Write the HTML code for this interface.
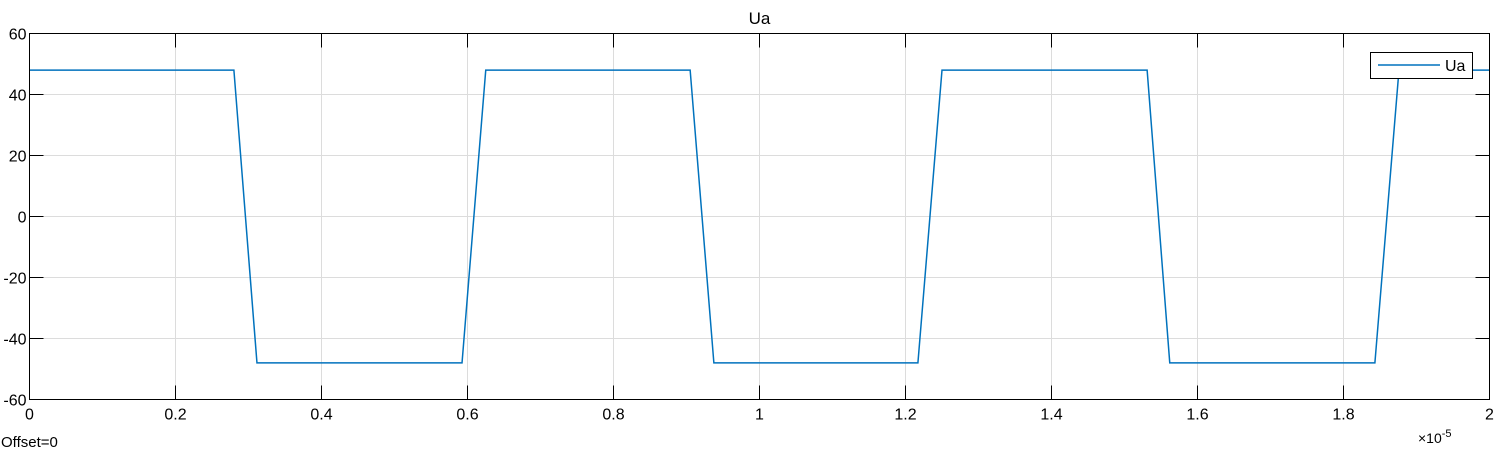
<!DOCTYPE html>
<html><head><meta charset="utf-8"><style>
body{margin:0;background:#fff;}
svg text{font-family:"Liberation Sans",Arial,sans-serif;}
</style></head><body>
<svg id="chart" width="1510" height="456" xmlns="http://www.w3.org/2000/svg">
<rect width="1510" height="456" fill="#fff"/>
<text x="759.5" y="24" style="font-size:17px" text-anchor="middle" fill="#000">Ua</text>
<g id="grid"></g><g id="ticks"></g>
<polyline id="series" fill="none" stroke="#0072bd" stroke-width="1.5"/>
<rect x="29.5" y="33.5" width="1460" height="366" fill="none" stroke="#000" stroke-width="1"/>
<g>
<rect x="1370.5" y="52.5" width="102" height="26" fill="#fff" stroke="#000"/>
<line x1="1378" y1="65" x2="1440" y2="65" stroke="#0072bd" stroke-width="1.5"/>
<text x="1445" y="71" style="font-size:16px" fill="#000">Ua</text>
</g>
<text x="1" y="447" style="font-size:15px" fill="#000">Offset=0</text>
<text x="1418" y="443" style="font-size:14px" fill="#000">×10<tspan dy="-6" style="font-size:11px">-5</tspan></text>
</svg>
<script>
const xTicks=[0,0.2,0.4,0.6,0.8,1,1.2,1.4,1.6,1.8,2];
const xTickLabels=["0","0.2","0.4","0.6","0.8","1","1.2","1.4","1.6","1.8","2"];
const yTicks=[-60,-40,-20,0,20,40,60];
const timeValues=[0,0.280,0.3116,0.5925,0.625,0.905,0.9375,1.217,1.25,1.531,1.562,1.843,1.876,2];
const uaValues=[48,48,-48,-48,48,48,-48,-48,48,48,-48,-48,48,48];
const L=29.5,R=1489.5,T=33.5,B=399.5;
const xs=v=>L+(v-0)/(2-0)*(R-L);
const ys=v=>B-(v+60)/120*(B-T);
const NS="http://www.w3.org/2000/svg";
const grid=document.getElementById('grid'),ticks=document.getElementById('ticks');
function ln(p,x1,y1,x2,y2,c){const l=document.createElementNS(NS,'line');l.setAttribute('x1',x1);l.setAttribute('y1',y1);l.setAttribute('x2',x2);l.setAttribute('y2',y2);l.setAttribute('stroke',c);p.appendChild(l);return l;}
xTicks.forEach((v,i)=>{const g=ln(grid,xs(v),T,xs(v),B,'#dcdcdc');


ln(ticks,xs(v),B,xs(v),B-14,'#000');ln(ticks,xs(v),T,xs(v),T+14,'#000');
const t=document.createElementNS(NS,'text');t.setAttribute('x',xs(v));t.setAttribute('y',B+20);t.setAttribute('style','font-size:16px');t.setAttribute('text-anchor','middle');t.textContent=xTickLabels[i];


ticks.appendChild(t);});
yTicks.forEach(v=>{const g=ln(grid,L,ys(v),R,ys(v),'#dcdcdc');


ln(ticks,L,ys(v),L+14,ys(v),'#000');ln(ticks,R,ys(v),R-14,ys(v),'#000');
const t=document.createElementNS(NS,'text');t.setAttribute('x',L-3);t.setAttribute('y',ys(v)+6);t.setAttribute('style','font-size:16px');t.setAttribute('text-anchor','end');t.textContent=String(v);


ticks.appendChild(t);});
document.getElementById('series').setAttribute('points',timeValues.map((t,i)=>xs(t)+','+ys(uaValues[i])).join(' '));
</script>
</body></html>
